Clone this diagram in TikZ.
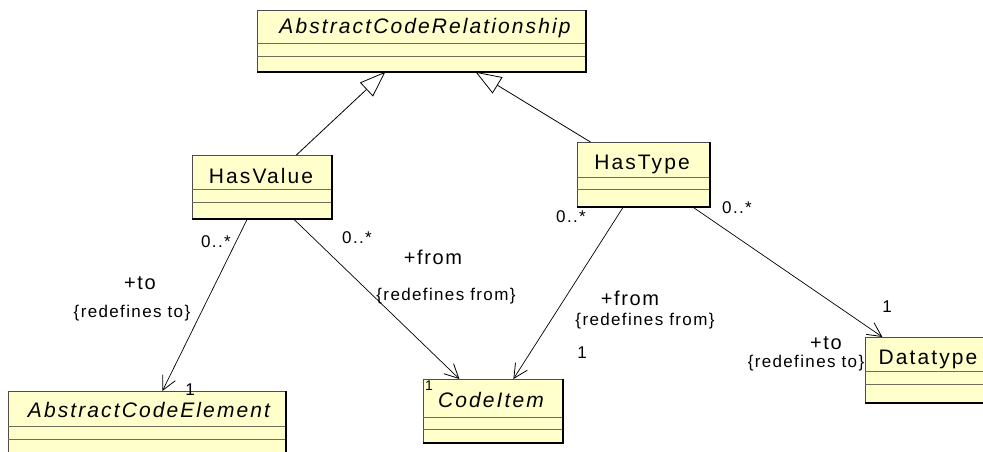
\documentclass[tikz,border=0pt]{standalone}
\usepackage{fontspec}
\setmainfont{Liberation Sans}
\newfontfamily\clsfont[LetterSpace=10]{Liberation Sans}
\newfontfamily\lblfont[LetterSpace=8]{Liberation Sans}
\usetikzlibrary{arrows.meta,calc}
\definecolor{clsfill}{HTML}{FFFFCC}
\definecolor{divcol}{HTML}{6E6E5A}
\newcommand\umlcls[7]{%
  \node[clsbox, minimum width=#4pt, minimum height=#5pt] (#1) at (#2,#3) {};
  \draw[divider] ([yshift=-#6pt]#1.north west) -- ([yshift=-#6pt]#1.north east);
  \draw[divider] ([yshift=-#7pt]#1.north west) -- ([yshift=-#7pt]#1.north east);
  \draw[shadowedge] (#1.north east) -- (#1.south east) -- (#1.south west);
}
\tikzset{
  clsbox/.style={draw=black!70, line width=0.8pt, fill=clsfill, inner sep=0pt, anchor=north west},
  divider/.style={draw=divcol, line width=0.9pt},
  shadowedge/.style={draw=black, line width=1.4pt},
  gen/.style={-{Triangle[open,length=26pt,width=19pt,fill=white]}, line width=0.8pt},
  assoc/.style={-{Straight Barb[length=14pt,width=14pt,line width=0.8pt]}, line width=0.7pt},
  cname/.style={font=\clsfont\fontsize{21pt}{24pt}\selectfont, inner sep=0pt, anchor=base},
  iname/.style={font=\clsfont\fontsize{21pt}{24pt}\selectfont\itshape, inner sep=0pt, anchor=base},
  mult/.style={font=\lblfont\fontsize{17pt}{19pt}\selectfont, inner sep=0pt, anchor=base},
  smult/.style={font=\lblfont\fontsize{14pt}{16pt}\selectfont, inner sep=0pt, anchor=base},
  role/.style={font=\lblfont\fontsize{20pt}{23pt}\selectfont, inner sep=0pt, anchor=base},
  cstr/.style={font=\lblfont\fontsize{17pt}{19pt}\selectfont, inner sep=0pt, anchor=base},
}
\begin{document}
\begin{tikzpicture}[x=1pt, y=-1pt]
\clip (0,0) rectangle (983,451);
\fill[white] (0,0) rectangle (983,451);
% classes: name, x, y, width, height, divider1, divider2 (offsets from top)
\umlcls{acr}{257}{10}{328}{61}{33}{46}
\umlcls{hv}{192}{155}{139}{63}{34}{47}
\umlcls{ht}{577}{142}{132}{64}{35}{47}
\umlcls{ace}{8}{391}{277}{66}{35}{48}
\umlcls{ci}{423}{379}{139}{63}{38}{50}
\umlcls{dt}{865}{337}{126}{65}{34}{47}
\node[iname] (acrn) at (425,33) {AbstractCodeRelationship};
\node[cname] (hvn) at (261,183) {HasValue};
\node[cname] (htn) at (642,169) {HasType};
\node[iname] (acen) at (149,417) {AbstractCodeElement};
\node[iname] (cin) at (491,407) {CodeItem};
\node[cname] (dtn) at (928,364) {Datatype};
% generalizations
\draw[gen] ([xshift=34.5pt]hv.north) -- ([xshift=-36pt]acr.south);
\draw[gen] ([xshift=-53pt]ht.north) -- ([xshift=54pt]acr.south);
% associations
\draw[assoc] ([xshift=-14.5pt]hv.south) -- ([xshift=15.5pt]ace.north);
\draw[assoc] ([xshift=31.5pt]hv.south) -- ([xshift=-33.5pt]ci.north);
\draw[assoc] ([xshift=-20pt]ht.south) -- ([xshift=20.5pt]ci.north);
\draw[assoc] ([xshift=49pt]ht.south) -- ([xshift=-46pt]dt.north);
% labels HasValue -> AbstractCodeElement
\node[mult] (m1) at (216,247) {0..*};
\node[role] (r1) at (140,289) {+to};
\node[cstr] (c1) at (132,317) {\{redefines to\}};
\node[mult] (m2) at (190,395) {1};
% labels HasValue -> CodeItem
\node[mult] (m3) at (357,243) {0..*};
\node[role] (r2) at (433,264) {+from};
\node[cstr] (c2) at (446,300) {\{redefines from\}};
\node[smult] (m4) at (429,390) {1};
% labels HasType -> CodeItem
\node[mult] (m5) at (571,222) {0..*};
\node[role] (r3) at (630,305) {+from};
\node[cstr] (c3) at (645,325) {\{redefines from\}};
\node[mult] (m6) at (582,358) {1};
% labels HasType -> Datatype
\node[mult] (m7) at (737,213) {0..*};
\node[mult] (m8) at (887,312) {1};
\node[role] (r4) at (826,349) {+to};
\node[cstr] (c4) at (806,367) {\{redefines to\}};
\end{tikzpicture}
\end{document}
